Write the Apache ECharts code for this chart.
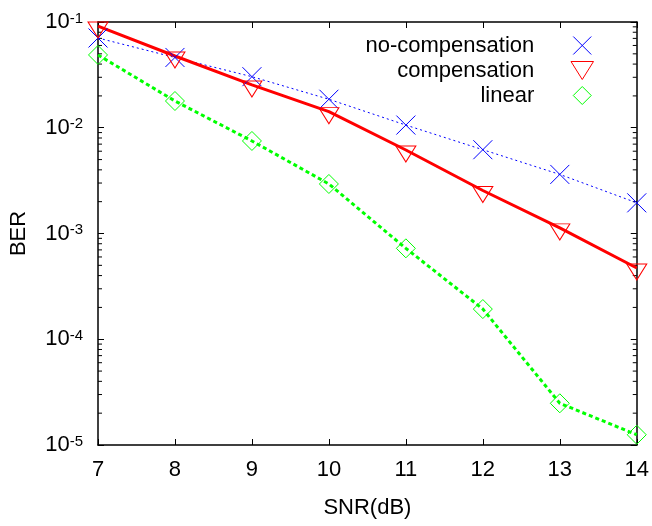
<!DOCTYPE html>
<html>
<head>
<meta charset="utf-8">
<script src="https://cdn.jsdelivr.net/npm/echarts@6/dist/echarts.min.js"></script>
<style>
html, body { margin: 0; padding: 0; background: #fff; }
#main { width: 652px; height: 526px; }
</style>
</head>
<body>
<div id="main"></div>
<script>
// 数据
var snr = [7, 8, 9, 10, 11, 12, 13, 14];
var berNoComp = [0.0706, 0.0462, 0.0304, 0.0186, 0.0106, 0.0062, 0.00362, 0.00195];
var berComp = [0.0916, 0.0477, 0.0254, 0.0142, 0.00616, 0.00255, 0.00113, 0.000472];
var berLinear = [0.0488, 0.0179, 0.0075, 0.00294, 0.000724, 0.000193, 0.0000248, 0.0000125];
var seriesNames = ['no-compensation', 'compensation', 'linear'];

// 对数轴的次刻度 2..9 x 10^k
var minorTicks = [];
for (var e = -5; e < -1; e++) {
    for (var m = 2; m < 10; m++) {
        minorTicks.push(+(m * Math.pow(10, e)).toPrecision(3));
    }
}

var font = 'Liberation Sans';
var symX = 'path://M0,0L1,1M1,0L0,1';
var symTri = 'path://M0,0L2,0L1,1.6Z';
var symDia = 'path://M1,0L2,1L1,2L0,1Z';

function pairs(ys) {
    return snr.map(function (x, i) { return [x, ys[i]]; });
}

function supLabel(v) {
    var ex = Math.round(Math.log(v) / Math.LN10);
    return '{b|10}{s|' + ex + '}';
}

// 次刻度：左右两边各画一小段，向内
function renderMinorTick(params, api) {
    var v = api.value(1);
    var l = api.coord([snr[0], v]);
    var r = api.coord([snr[snr.length - 1], v]);
    var st = { stroke: '#000', lineWidth: 1 };
    return {
        type: 'group',
        children: [
            { type: 'line', shape: { x1: l[0], y1: l[1], x2: l[0] + 4, y2: l[1] }, style: st },
            { type: 'line', shape: { x1: r[0], y1: r[1], x2: r[0] - 4, y2: r[1] }, style: st }
        ]
    };
}

var lineAxis = { show: true, lineStyle: { color: '#000', width: 1.5 } };

var dom = echarts.init(document.getElementById('main'));

var option = {
    animation: false,
    backgroundColor: '#fff',
    textStyle: { fontFamily: font },
    grid: { left: 96, right: 15, top: 22, bottom: 81, containLabel: false },
    legend: {
        orient: 'vertical',
        right: 51,
        top: 29,
        align: 'right',
        itemWidth: 86,
        itemHeight: 18,
        itemGap: 2,
        symbolKeepAspect: true,
        textStyle: { fontSize: 22, color: '#000', fontFamily: font },
        itemStyle: { borderWidth: 1 },
        data: [
            { name: seriesNames[0], icon: symX },
            { name: seriesNames[1], icon: symTri },
            { name: seriesNames[2], icon: symDia }
        ]
    },
    xAxis: [{
        type: 'value',
        min: 7,
        max: 14,
        interval: 1,
        position: 'bottom',
        name: 'SNR(dB)',
        nameLocation: 'middle',
        nameGap: 52,
        nameTextStyle: { fontSize: 22, color: '#000', fontFamily: font },
        axisLine: lineAxis,
        axisTick: { show: true, inside: true, length: 6, lineStyle: { color: '#000' } },
        axisLabel: { fontSize: 22, color: '#000', margin: 14, fontFamily: font },
        splitLine: { show: false }
    }, {
        type: 'value',
        min: 7,
        max: 14,
        interval: 1,
        position: 'top',
        axisLine: lineAxis,
        axisTick: { show: true, inside: true, length: 6, lineStyle: { color: '#000' } },
        axisLabel: { show: false },
        splitLine: { show: false }
    }],
    yAxis: [{
        type: 'log',
        logBase: 10,
        min: 1e-5,
        max: 0.1,
        position: 'left',
        name: 'BER',
        nameLocation: 'middle',
        nameGap: 68,
        nameTextStyle: { fontSize: 22, color: '#000', fontFamily: font },
        axisLine: lineAxis,
        axisTick: { show: true, inside: true, length: 6, lineStyle: { color: '#000' } },
        axisLabel: {
            margin: 15,
            formatter: supLabel,
            rich: {
                b: { fontSize: 22, color: '#000', fontFamily: font },
                s: { fontSize: 15, color: '#000', fontFamily: font, verticalAlign: 'top' }
            }
        },
        splitLine: { show: false }
    }, {
        type: 'log',
        logBase: 10,
        min: 1e-5,
        max: 0.1,
        position: 'right',
        axisLine: lineAxis,
        axisTick: { show: true, inside: true, length: 6, lineStyle: { color: '#000' } },
        axisLabel: { show: false },
        splitLine: { show: false }
    }],
    series: [{
        name: 'minor-ticks',
        type: 'custom',
        silent: true,
        clip: false,
        z: 1,
        renderItem: renderMinorTick,
        data: minorTicks.map(function (v) { return [snr[0], v]; })
    }, {
        name: seriesNames[0],
        type: 'line',
        data: pairs(berNoComp),
        symbol: symX,
        symbolSize: 19,
        showAllSymbol: true,
        lineStyle: { color: '#0000ff', width: 1, type: [2, 3] },
        itemStyle: { color: 'none', borderColor: '#0000ff', borderWidth: 1 }
    }, {
        name: seriesNames[1],
        type: 'line',
        data: pairs(berComp),
        symbol: symTri,
        symbolSize: [20, 16],
        symbolOffset: [0, 4],
        lineStyle: { color: '#ff0000', width: 3 },
        itemStyle: { color: 'none', borderColor: '#ff0000', borderWidth: 1 }
    }, {
        name: seriesNames[2],
        type: 'line',
        data: pairs(berLinear),
        symbol: symDia,
        symbolSize: 19,
        lineStyle: { color: '#00ff00', width: 3, type: [4, 3] },
        itemStyle: { color: 'none', borderColor: '#00ff00', borderWidth: 1 }
    }]
};

dom.setOption(option);
</script>
</body>
</html>
